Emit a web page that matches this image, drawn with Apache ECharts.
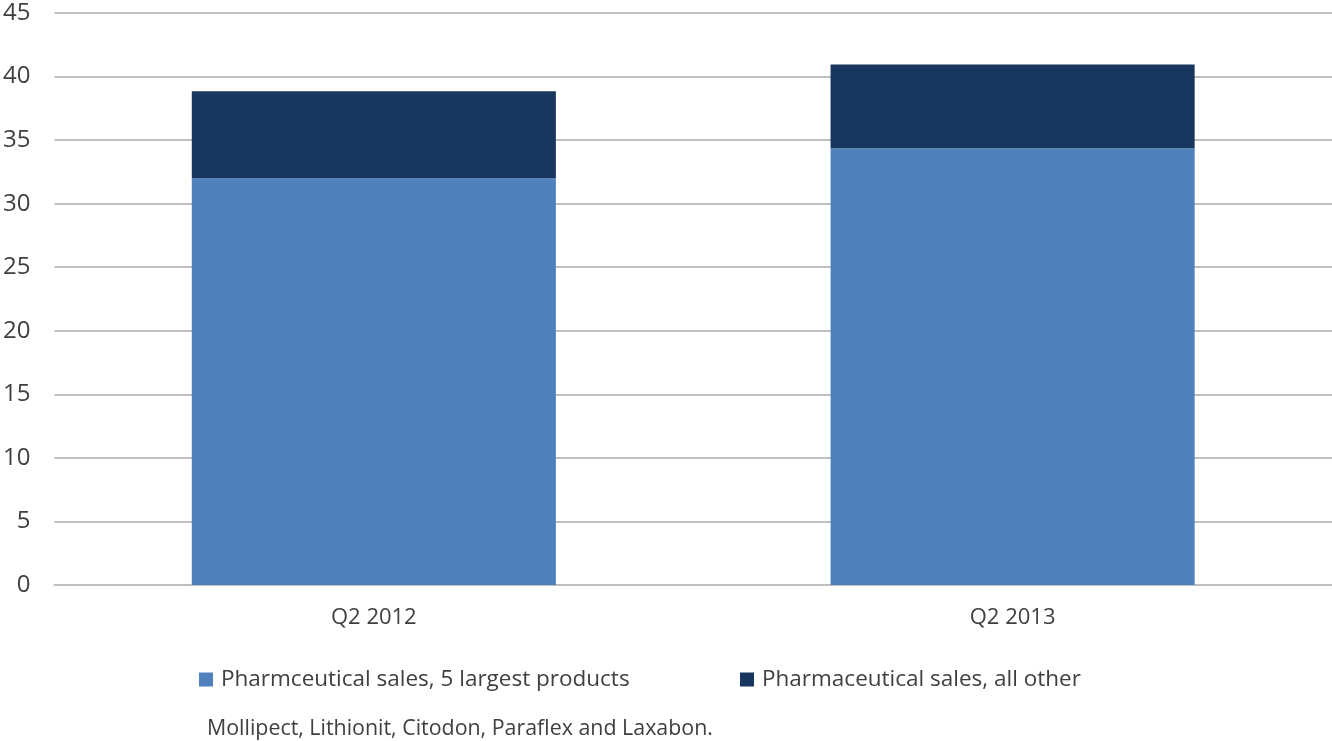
<!DOCTYPE html>
<html>
<head>
<meta charset="utf-8">
<script src="https://cdn.jsdelivr.net/npm/echarts@6/dist/echarts.min.js"></script>
<style>
  html, body { margin: 0; padding: 0; background: #fff; }
  #main { width: 1332px; height: 741px; }
</style>
</head>
<body>
<div id="main"></div>
<script>
var categories = ['Q2 2012', 'Q2 2013'];
var top5Sales = [32.0, 34.35];
var otherSales = [6.85, 6.6];
var yTicks = { min: 0, max: 45, interval: 5 };
var note = 'Mollipect, Lithionit, Citodon, Paraflex and Laxabon.';

var font = '"Open Sans", sans-serif';
var chart = echarts.init(document.getElementById('main'));

var legendText = { fontFamily: font, fontSize: 22.5, color: '#404040', padding: [0, 0, 0, 3] };

var option = {
  animation: false,
  grid: { left: 54, right: 0, top: 13, bottom: 156 },
  legend: [
    {
      left: 194, top: 663, itemWidth: 14, itemHeight: 14, icon: 'rect',
      data: ['Pharmceutical sales, 5 largest products'],
      textStyle: legendText
    },
    {
      left: 735, top: 663, itemWidth: 14, itemHeight: 14, icon: 'rect',
      data: ['Pharmaceutical sales, all other'],
      textStyle: legendText
    }
  ],
  graphic: [{
    type: 'text', left: 207, top: 718,
    style: { text: note, font: '21.4px ' + font, fill: '#404040' }
  }],
  xAxis: {
    type: 'category',
    data: categories,
    axisTick: { show: false },
    axisLine: { lineStyle: { color: '#bfbfbf', width: 2 } },
    axisLabel: { margin: 22, fontFamily: font, fontSize: 22, color: '#404040' }
  },
  yAxis: {
    type: 'value',
    min: yTicks.min, max: yTicks.max, interval: yTicks.interval,
    axisLine: { show: false },
    axisTick: { show: false },
    splitLine: { lineStyle: { color: '#bfbfbf', width: 2 } },
    axisLabel: { margin: 24, fontFamily: font, fontSize: 24, color: '#404040' }
  },
  series: [
    {
      name: 'Pharmceutical sales, 5 largest products',
      type: 'bar', stack: 'sales', barWidth: '57%',
      itemStyle: { color: '#4f81bd' },
      data: top5Sales
    },
    {
      name: 'Pharmaceutical sales, all other',
      type: 'bar', stack: 'sales', barWidth: '57%',
      itemStyle: { color: '#17375e' },
      data: otherSales
    }
  ]
};

chart.setOption(option);
</script>
</body>
</html>
